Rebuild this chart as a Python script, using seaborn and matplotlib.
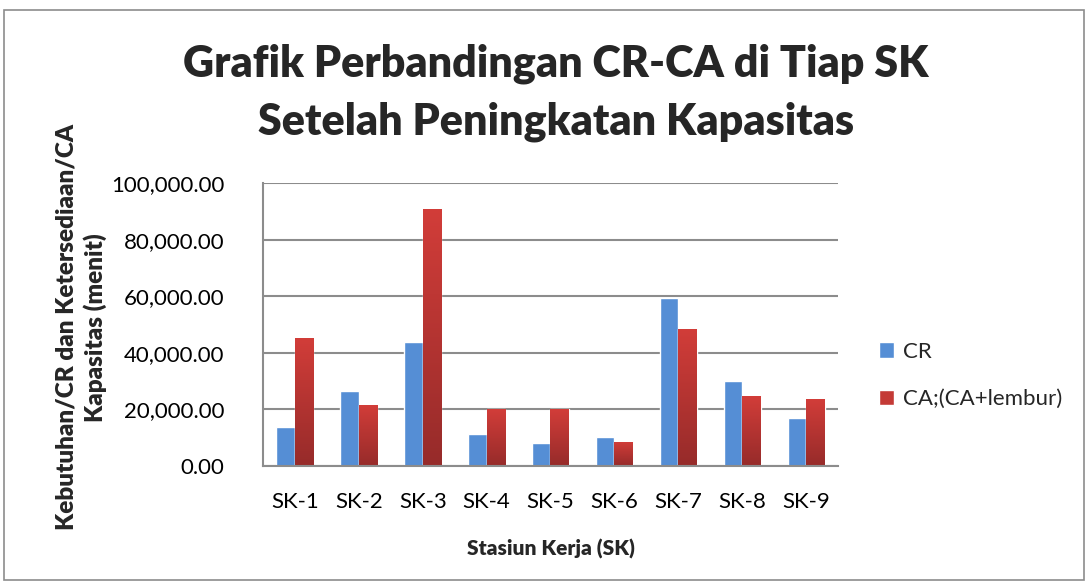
import numpy as np
import pandas as pd
import seaborn as sns
import matplotlib.pyplot as plt
from matplotlib.patches import Rectangle
from matplotlib.colors import LinearSegmentedColormap

# data
stations = ['SK-1', 'SK-2', 'SK-3', 'SK-4', 'SK-5', 'SK-6', 'SK-7', 'SK-8', 'SK-9']
cr = [13700, 26400, 43900, 11200, 8100, 10300, 59300, 30000, 16900]
ca = [45300, 21500, 90900, 20000, 20000, 8500, 48500, 24600, 23600]
series = ['CR', 'CA;(CA+lembur)']

df = pd.DataFrame({'SK': stations * 2,
                   'nilai': cr + ca,
                   'seri': [series[0]] * len(cr) + [series[1]] * len(ca)})

sns.set_theme(style='white')
plt.rcParams['font.family'] = ['Lato', 'DejaVu Sans']

fig = plt.figure(figsize=(10.89, 5.83), dpi=100)
ax = fig.add_axes([263 / 1089, 1 - 466 / 583, 575 / 1089, 283 / 583])

sns.barplot(data=df, x='SK', y='nilai', hue='seri', ax=ax,
            palette=['#558ED5', '#C43A36'], width=0.58, saturation=1,
            legend=True)

# gradient on the red bars
grad = np.linspace(0, 1, 256).reshape(-1, 1)
red_cm = LinearSegmentedColormap.from_list('r', ['#962B2A', '#D23D39'])
for bar in ax.containers[1]:
    x0, y0 = bar.get_x(), bar.get_y()
    w, h = bar.get_width(), bar.get_height()
    im = ax.imshow(grad, extent=[x0, x0 + w, y0, y0 + h], origin='lower',
                   cmap=red_cm, aspect='auto', zorder=bar.get_zorder())
    im.set_clip_path(bar)

ax.set_xlim(-0.5, 8.5)
ax.set_ylim(0, 100000)
ax.set_yticks(np.arange(0, 100001, 20000))
ax.set_yticklabels([f'{v:,.2f}' for v in np.arange(0, 100001, 20000)])
ax.yaxis.grid(True, color='#8C8C8C', linewidth=1.5)
ax.set_axisbelow(True)
for s in ['top', 'right']:
    ax.spines[s].set_visible(False)
for s in ['left', 'bottom']:
    ax.spines[s].set_color('#8C8C8C')
    ax.spines[s].set_linewidth(1.5)
ax.tick_params(axis='y', labelsize=16, length=0, colors='black', pad=28)
ax.tick_params(axis='x', labelsize=16, length=0, colors='black', pad=19)

ax.set_xlabel('Stasiun Kerja (SK)', fontsize=15, fontweight='heavy', labelpad=19)
ax.set_ylabel('Kebutuhan/CR dan Ketersediaan/CA\nKapasitas (menit)',
              fontsize=17.5, fontweight='heavy', linespacing=1.3)
ax.yaxis.set_label_coords(-0.272, 0.49)

fig.text(556 / 1089, 1 - 93 / 583,
         'Grafik Perbandingan CR-CA di Tiap SK\nSetelah Peningkatan Kapasitas',
         ha='center', va='center', fontsize=31, fontweight='heavy',
         linespacing=1.54)

ax.legend(loc='center left', bbox_to_anchor=(1.036, 0.32), frameon=False,
          fontsize=16, handlelength=0.7, handleheight=0.7,
          labelspacing=1.25, handletextpad=0.4)

# chart border
fig.patches.append(Rectangle((4 / 1089, 3 / 583), 1080 / 1089, 570 / 583,
                             transform=fig.transFigure, fill=False,
                             edgecolor='#8C8C8C', linewidth=1.2))

fig.savefig('out.png', dpi=100)
